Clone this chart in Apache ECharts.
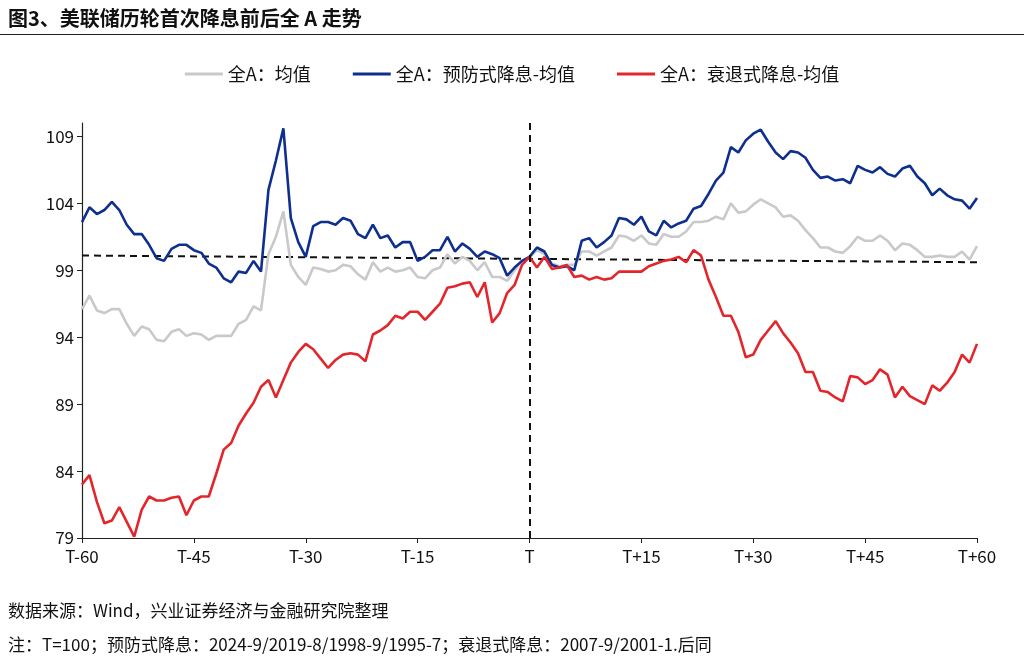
<!DOCTYPE html>
<html>
<head>
<meta charset="utf-8">
<script src="https://cdn.jsdelivr.net/npm/echarts@6/dist/echarts.min.js"></script>
<style>
  body { margin: 0; background: #fff; font-family: "Noto Sans CJK SC", sans-serif; }
  #title { position: absolute; left: 8px; top: 3px; font-size: 20px; font-weight: bold; color: #111; }
  #rule { position: absolute; left: 0; top: 34px; width: 1024px; border-top: 1.5px solid #222; }
  .note { position: absolute; left: 8px; font-size: 17px; color: #111; }
  #graph { position: absolute; left: 0; top: 0; width: 1024px; height: 660px; }
</style>
</head>
<body>
<div id="graph"></div>
<div id="title">图3、美联储历轮首次降息前后全 A 走势</div>
<div id="rule"></div>
<div class="note" style="top:597px">数据来源：Wind，兴业证券经济与金融研究院整理</div>
<div class="note" style="top:631px">注：T=100；预防式降息：2024-9/2019-8/1998-9/1995-7；衰退式降息：2007-9/2001-1.后同</div>
<script>
const seriesNames = ['全A：均值', '全A：预防式降息-均值', '全A：衰退式降息-均值'];
const tickLabels = ['T-60', 'T-45', 'T-30', 'T-15', 'T', 'T+15', 'T+30', 'T+45', 'T+60'];

const avgAll = [
  96.1, 97.1, 96.0, 95.8, 96.1, 96.1, 95.0, 94.1, 94.8, 94.6, 93.8, 93.7, 94.4, 94.6, 94.1, 94.3, 94.2, 93.8, 94.1, 94.1,
  94.1, 95.0, 95.3, 96.3, 96.0, 100.2, 101.5, 103.4, 99.4, 98.5, 97.9, 99.2, 99.1, 98.9, 99.0, 99.4, 99.3, 98.7, 98.3, 99.6,
  98.9, 99.2, 98.9, 99.0, 99.2, 98.5, 98.4, 99.0, 99.2, 100.2, 99.5, 100.0, 99.7, 99.0, 99.6, 98.5, 98.5, 98.2, 99.0, 99.7,
  100.0,
  100.5, 100.2, 99.5, 99.3, 99.4, 99.4, 100.4, 100.4, 100.1, 100.4, 100.7, 101.6, 101.5, 101.2, 101.6, 101.0, 100.9, 101.7, 101.5, 101.5,
  101.9, 102.6, 102.6, 102.7, 103.0, 102.8, 104.0, 103.3, 103.4, 103.9, 104.3, 104.0, 103.7, 103.0, 103.1, 102.7, 102.0, 101.4, 100.7, 100.7,
  100.4, 100.3, 100.8, 101.5, 101.2, 101.2, 101.6, 101.2, 100.5, 101.0, 100.9, 100.5, 100.0, 100.0, 100.1, 100.0, 100.0, 100.4, 99.8, 100.8
];
const preventive = [
  102.6, 103.7, 103.2, 103.5, 104.1, 103.5, 102.4, 101.7, 101.7, 100.9, 99.9, 99.7, 100.6, 100.9, 100.9, 100.5, 100.3, 99.5, 99.2, 98.4,
  98.1, 98.9, 98.8, 99.7, 98.9, 105.0, 107.2, 109.6, 102.9, 101.1, 100.0, 102.3, 102.6, 102.6, 102.4, 102.9, 102.7, 101.7, 101.4, 102.4,
  101.4, 101.6, 100.7, 101.1, 101.1, 99.7, 100.0, 100.5, 100.5, 101.5, 100.4, 101.0, 100.6, 100.0, 100.4, 100.2, 99.9, 98.6, 99.2, 99.7,
  100.0,
  100.7, 100.4, 99.4, 99.2, 99.3, 99.0, 101.2, 101.4, 100.7, 101.1, 101.6, 102.9, 102.8, 102.4, 103.0, 101.9, 101.6, 102.7, 102.2, 102.5,
  102.7, 103.6, 103.8, 104.7, 105.7, 106.3, 108.2, 107.8, 108.7, 109.2, 109.5, 108.6, 107.8, 107.3, 107.9, 107.8, 107.4, 106.5, 105.9, 106.0,
  105.7, 105.8, 105.5, 106.8, 106.5, 106.3, 106.7, 106.2, 106.0, 106.6, 106.8, 106.0, 105.5, 104.6, 105.1, 104.6, 104.3, 104.2, 103.6, 104.4
];
const recession = [
  83.0, 83.7, 81.7, 80.1, 80.3, 81.3, 80.2, 79.1, 81.1, 82.1, 81.8, 81.8, 82.0, 82.1, 80.7, 81.8, 82.1, 82.1, 83.8, 85.6,
  86.1, 87.4, 88.3, 89.1, 90.3, 90.8, 89.5, 90.8, 92.1, 92.9, 93.5, 93.1, 92.4, 91.7, 92.3, 92.7, 92.8, 92.7, 92.2, 94.2,
  94.5, 94.9, 95.6, 95.4, 95.9, 95.9, 95.3, 95.9, 96.5, 97.7, 97.8, 98.0, 98.1, 97.0, 98.1, 95.1, 95.8, 97.3, 97.9, 99.4,
  100.0,
  99.2, 100.0, 99.1, 99.2, 99.4, 98.5, 98.6, 98.3, 98.5, 98.3, 98.4, 98.9, 98.9, 98.9, 98.9, 99.3, 99.5, 99.7, 99.8, 100.0,
  99.6, 100.5, 100.1, 98.3, 97.0, 95.6, 95.6, 94.4, 92.5, 92.7, 93.8, 94.5, 95.2, 94.3, 93.6, 92.8, 91.4, 91.4, 90.0, 89.9,
  89.5, 89.2, 91.1, 91.0, 90.5, 90.8, 91.6, 91.2, 89.5, 90.3, 89.6, 89.3, 89.0, 90.4, 90.0, 90.6, 91.4, 92.7, 92.1, 93.5
];
// dashed reference line: value at T-60 and at T+60
const refLine = [100.1, 99.6];

const categories = [];
for (let i = -60; i <= 60; i++) categories.push(i === 0 ? 'T' : (i < 0 ? 'T' + i : 'T+' + i));
const refData = categories.map((c, i) => i === 0 ? refLine[0] : (i === categories.length - 1 ? refLine[1] : null));

const chart = echarts.init(document.getElementById('graph'));
const line = (name, data, color) => ({
  name, type: 'line', data, symbol: 'none', smooth: false,
  lineStyle: { color, width: 2.6 }, itemStyle: { color }
});

chart.setOption({
  animation: false,
  textStyle: { fontFamily: 'Noto Sans CJK SC' },
  legend: {
    top: 60, left: 'center', itemWidth: 38, itemHeight: 3, itemGap: 42,
    icon: 'rect', textStyle: { fontSize: 18, color: '#111' },
    data: seriesNames
  },
  grid: { left: 82, right: 47, top: 123, bottom: 122 },
  xAxis: {
    type: 'category', data: categories, boundaryGap: false,
    axisLine: { lineStyle: { color: '#222', width: 1.2 } },
    axisTick: { interval: 14, length: 5, lineStyle: { color: '#222' } },
    axisLabel: {
      interval: 14, fontSize: 17, color: '#111', margin: 10,
      formatter: v => tickLabels.includes(v) ? v : ''
    }
  },
  yAxis: {
    type: 'value', min: 79, max: 110, interval: 5,
    axisLine: { show: true, lineStyle: { color: '#222', width: 1.2 } },
    axisTick: { show: true, length: 5, lineStyle: { color: '#222' } },
    axisLabel: { fontSize: 17, color: '#111', showMaxLabel: false },
    splitLine: { show: false }
  },
  series: [
    line(seriesNames[0], avgAll, '#c9c9c9'),
    line(seriesNames[1], preventive, '#0f2f8f'),
    Object.assign(line(seriesNames[2], recession, '#e3262b'), {
      markLine: {
        silent: true, symbol: 'none', label: { show: false },
        lineStyle: { color: '#111', type: [7, 5], width: 2 },
        data: [{ xAxis: 'T' }]
      }
    }),
    {
      type: 'line', data: refData, connectNulls: true, symbol: 'none',
      lineStyle: { color: '#111', type: [7, 5], width: 2 }, z: 1
    }
  ]
});
</script>
</body>
</html>
